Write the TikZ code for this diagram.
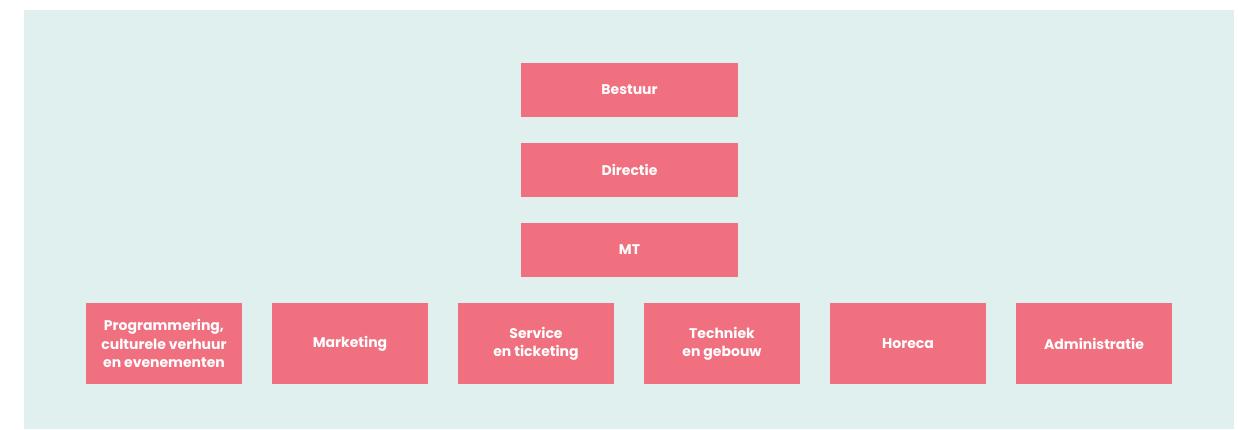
\documentclass[tikz,border=0pt]{standalone}
\usepackage{fontspec}
\setmainfont{Poppins}
\usepackage{tikz}
\usetikzlibrary{positioning}
\definecolor{roze}{RGB}{240, 112, 128}
\definecolor{mint}{RGB}{224, 240, 239}
\tikzset{
    top/.style={fill=roze, text=white, font=\bfseries\fontsize{14}{18.3}\selectfont, minimum width=217pt, minimum height=54pt, inner sep=0pt, outer sep=0pt},
    afd/.style={fill=roze, text=white, font=\bfseries\fontsize{14}{18.3}\selectfont, align=center, minimum width=156pt, minimum height=81pt, inner sep=0pt, outer sep=0pt},
}
\begin{document}
\begin{tikzpicture}[x=1pt, y=-1pt]
        \useasboundingbox (0,0) rectangle (1238,429);
        \fill[mint] (24,10) rectangle (1234,429);

        \node [top] (bestuur) at (629.5,90) {Bestuur};
        \node [top, below=26pt of bestuur] (directie) {Directie};
        \node [top, below=26pt of directie] (mt) {MT};

        \node [afd] (prog) at (164,343.5) {Programmering,\\culturele verhuur\\en evenementen};
        \node [afd, right=30pt of prog] (mark) {Marketing};
        \node [afd, right=30pt of mark] (serv) {Service\\en ticketing};
        \node [afd, right=30pt of serv] (tech) {Techniek\\en gebouw};
        \node [afd, right=30pt of tech] (hor) {Horeca};
        \node [afd, right=30pt of hor] (adm) {Administratie};
\end{tikzpicture}
\end{document}
